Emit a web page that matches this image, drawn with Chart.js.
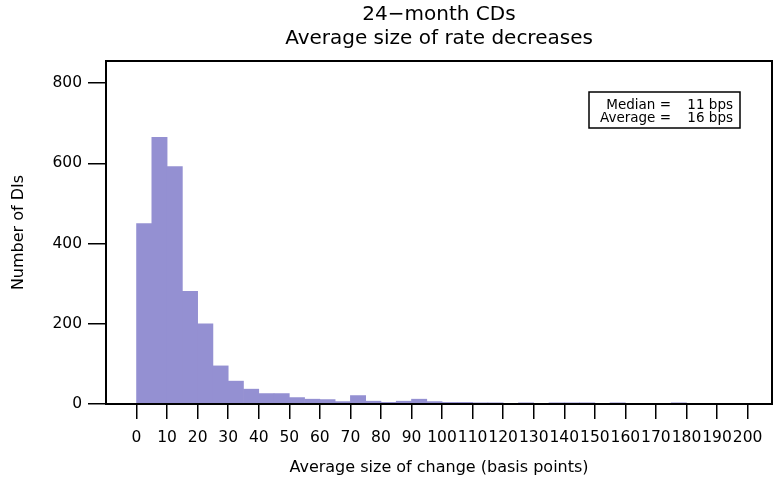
<!DOCTYPE html>
<html lang="en">
<head>
<meta charset="UTF-8">
<title>24-month CDs</title>
<style>
  html, body { margin: 0; padding: 0; background: #fff; }
  canvas { display: block; }
</style>
</head>
<body>
<canvas id="hist" width="780" height="483"></canvas>
<script src="https://cdn.jsdelivr.net/npm/chart.js"></script>
<script>
    // histogram of rate decreases, 5 bps bins
    const binWidth = 5;
    const binStarts = [0, 5, 10, 15, 20, 25, 30, 35, 40, 45,
                       50, 55, 60, 65, 70, 75, 80, 85, 90, 95,
                       100, 105, 110, 115, 120, 125, 130, 135, 140, 145,
                       150, 155, 160, 165, 170, 175, 180, 185, 190, 195];
    const counts = [450, 665, 592, 281, 200, 95, 57, 37, 26, 26,
                    16, 12, 11, 6, 21, 7, 4, 7, 12, 6,
                    4, 4, 3, 3, 0, 3, 0, 3, 3, 3,
                    0, 3, 0, 0, 0, 3, 0, 0, 0, 0];
    const xTicks = [0, 10, 20, 30, 40, 50, 60, 70, 80, 90, 100,
                    110, 120, 130, 140, 150, 160, 170, 180, 190, 200];
    const yTicks = [0, 200, 400, 600, 800];
    const statLabels = ['Median =', 'Average ='];
    const statValues = ['11 bps', '16 bps'];

    const FONT = 'DejaVu Sans';

    // box around the plot + the little stats box in the corner
    const framePlugin = {
        id: 'frame',
        afterDatasetsDraw(chart) {
            const { ctx, chartArea: a } = chart;
            ctx.save();
            ctx.strokeStyle = '#000';
            ctx.lineWidth = 2;
            ctx.strokeRect(a.left, a.top, a.right - a.left, a.bottom - a.top);

            const bx = a.right - 183, by = a.top + 31, bw = 151, bh = 36;
            ctx.lineWidth = 1.5;
            ctx.strokeRect(bx, by, bw, bh);
            ctx.fillStyle = '#000';
            ctx.font = '13.5px "' + FONT + '"';
            ctx.textAlign = 'right';
            ctx.textBaseline = 'middle';
            statLabels.forEach((lbl, i) => {
                const y = by + 13 + i * 13;
                ctx.fillText(lbl, bx + 82, y);
                ctx.fillText(statValues[i], bx + 144, y);
            });
            ctx.restore();
        }
    };

    const points = binStarts.map((s, i) => ({ x: s + binWidth / 2, y: counts[i] }));

    new Chart(document.getElementById('hist'), {
        type: 'bar',
        data: {
            datasets: [{
                data: points,
                backgroundColor: 'rgb(148, 144, 210)',
                borderWidth: 0,
                barPercentage: 1,
                categoryPercentage: 1
            }]
        },
        options: {
            responsive: false,
            animation: false,
            layout: { padding: { left: 0, right: 8, top: 0, bottom: 0 } },
            plugins: {
                legend: { display: false },
                tooltip: { enabled: false },
                title: {
                    display: true,
                    fullSize: false,
                    text: ['24\u2212month CDs', 'Average size of rate decreases'],
                    color: '#000',
                    font: { family: FONT, size: 20, weight: 'normal', lineHeight: 1.2 },
                    padding: { top: 3, bottom: 10 }
                }
            },
            scales: {
                x: {
                    type: 'linear',
                    min: -10,
                    max: 208,
                    offset: false,
                    afterBuildTicks: s => { s.ticks = xTicks.map(v => ({ value: v })); },
                    afterFit: s => { s.height = 79; },
                    ticks: {
                        autoSkip: false,
                        maxRotation: 0,
                        padding: 10,
                        color: '#000',
                        font: { family: FONT, size: 15.5 }
                    },
                    grid: { offset: false, drawOnChartArea: false, drawTicks: true, tickLength: 15, color: '#000', lineWidth: 1.5 },
                    border: { display: false },
                    title: {
                        display: true,
                        text: 'Average size of change (basis points)',
                        color: '#000',
                        font: { family: FONT, size: 16 },
                        padding: { top: 0, bottom: 6 }
                    }
                },
                y: {
                    min: 0,
                    max: 855,
                    afterBuildTicks: s => { s.ticks = yTicks.map(v => ({ value: v })); },
                    afterFit: s => { s.width = 106; },
                    ticks: {
                        padding: 6,
                        color: '#000',
                        font: { family: FONT, size: 15.5 }
                    },
                    grid: { drawOnChartArea: false, drawTicks: true, tickLength: 18, color: '#000', lineWidth: 1.5 },
                    border: { display: false },
                    title: {
                        display: true,
                        text: 'Number of DIs',
                        color: '#000',
                        font: { family: FONT, size: 16 },
                        padding: { top: 9, bottom: 0 }
                    }
                }
            }
        },
        plugins: [framePlugin]
    });
</script>
</body>
</html>
